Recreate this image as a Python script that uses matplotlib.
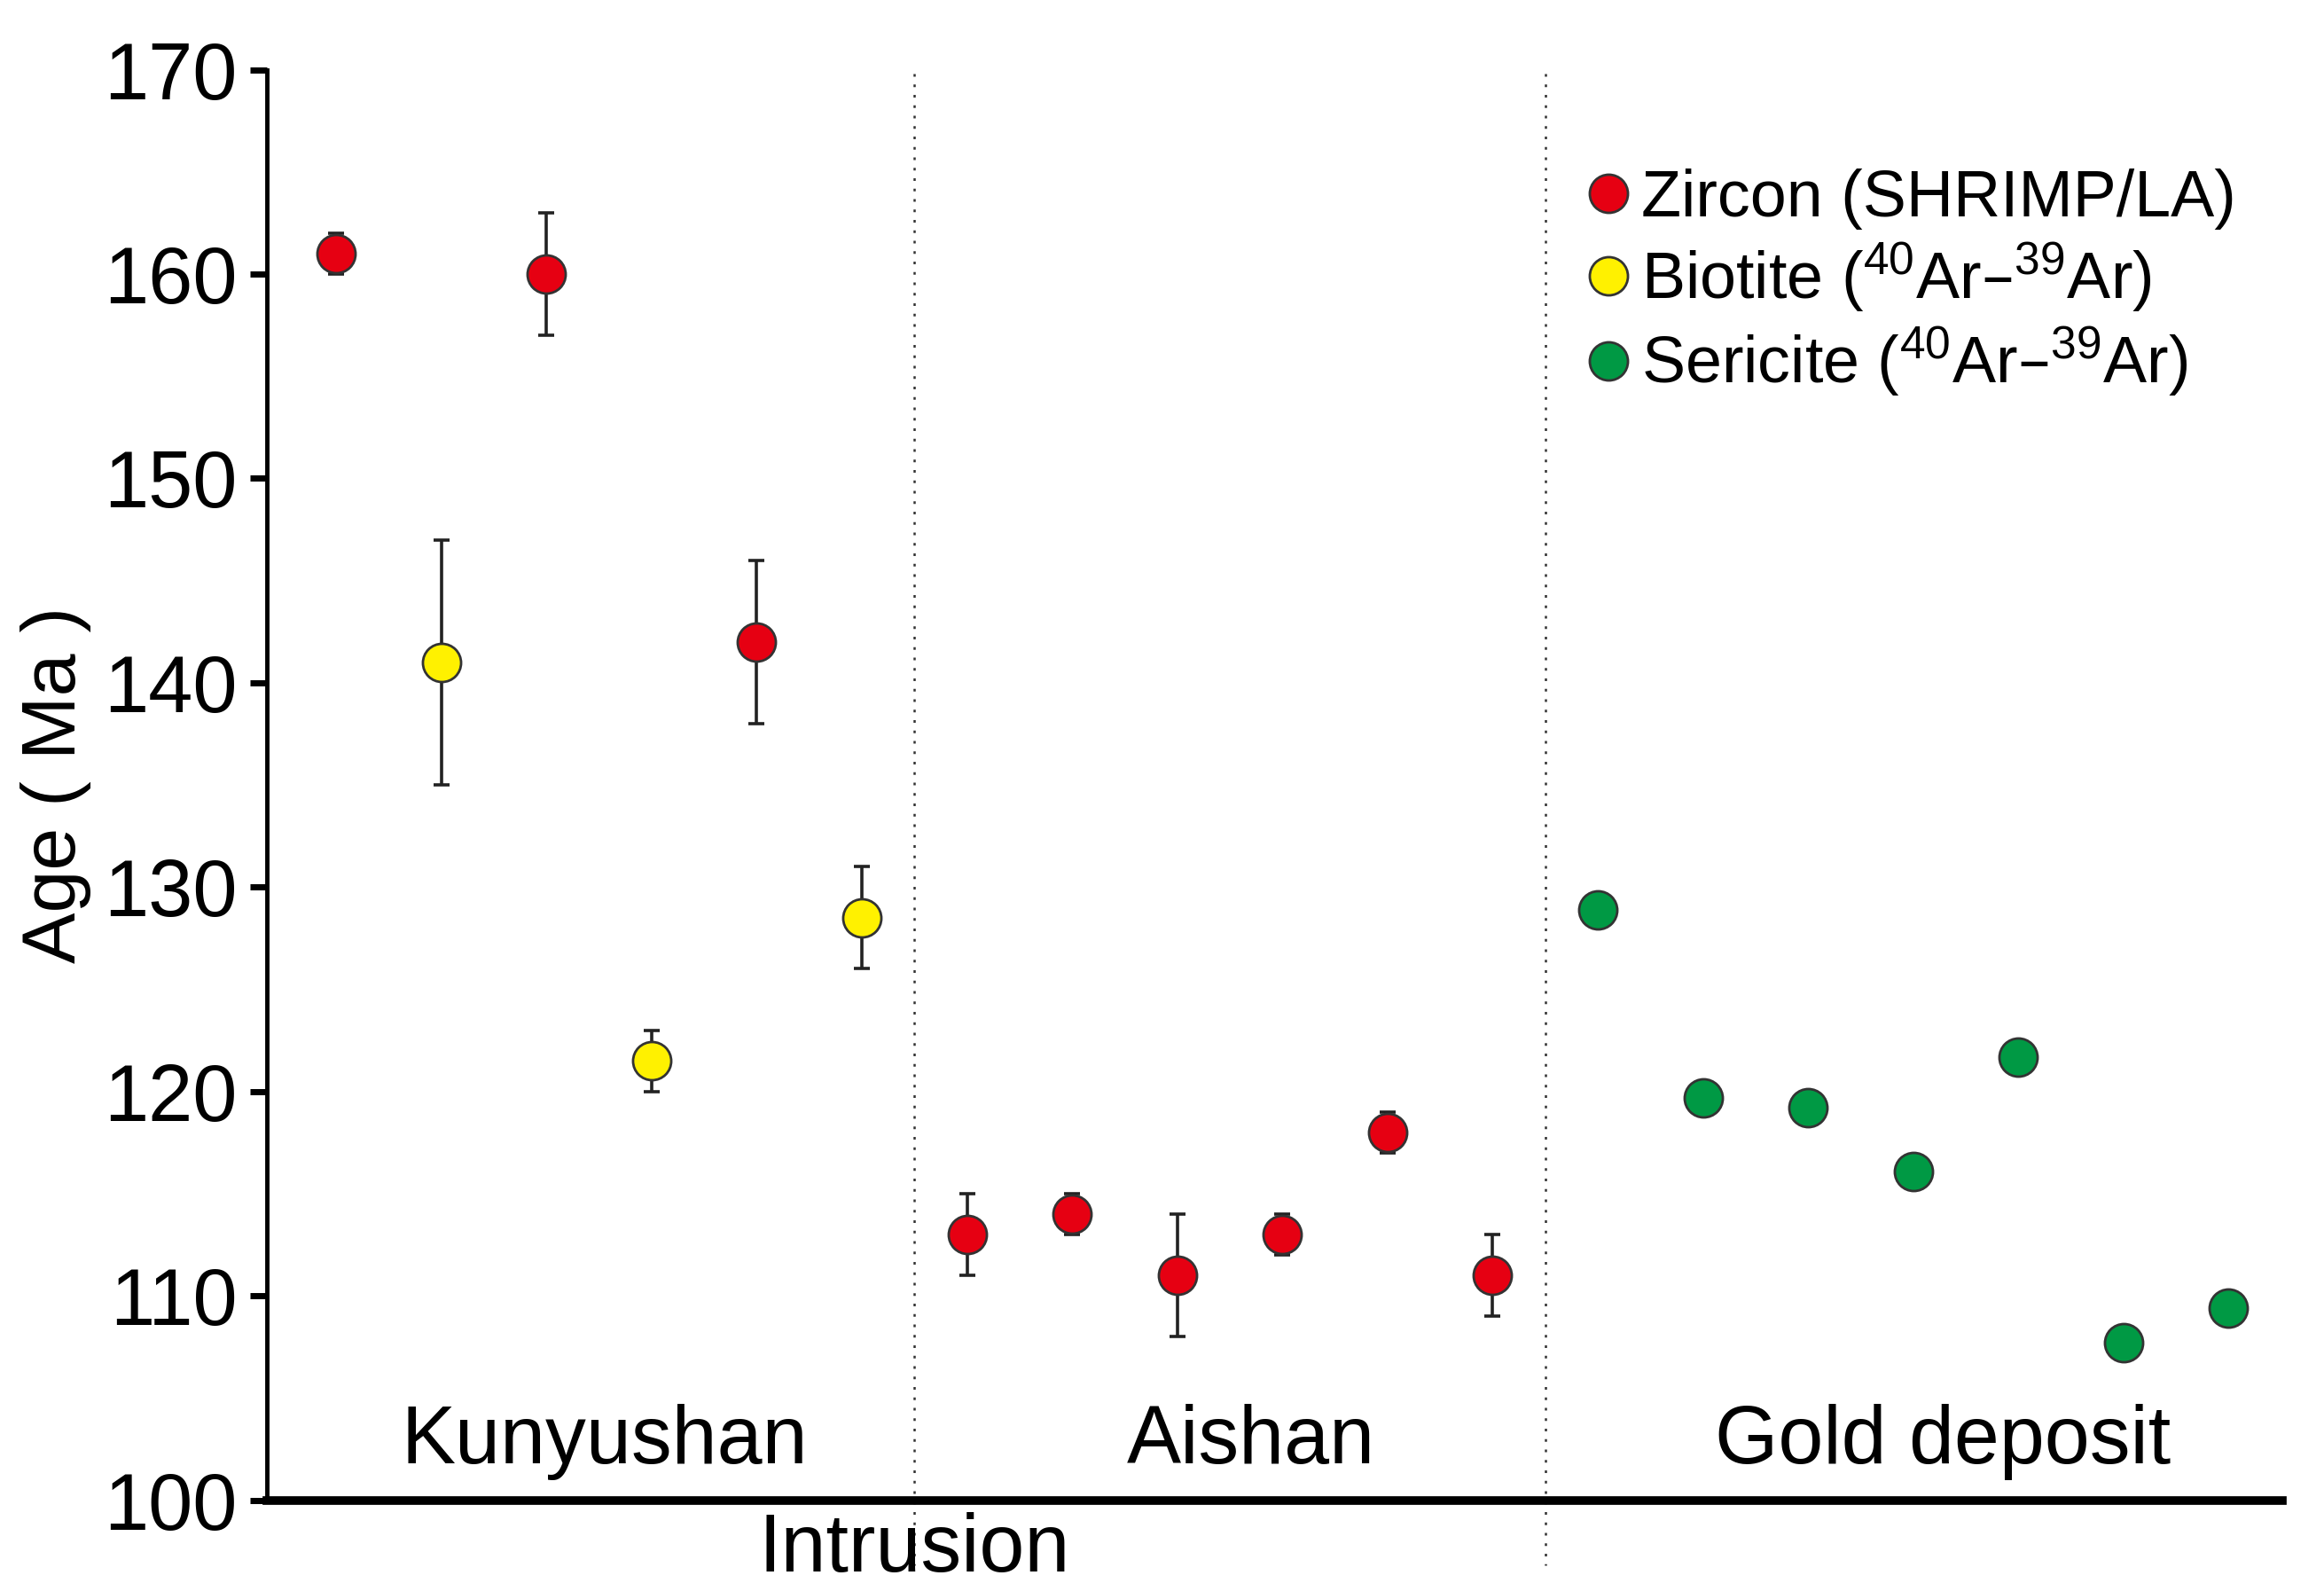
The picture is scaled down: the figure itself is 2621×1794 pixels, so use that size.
import matplotlib
matplotlib.use("Agg")
import matplotlib.pyplot as plt
from matplotlib.lines import Line2D
import numpy as np

plt.rcParams['font.family'] = ['Liberation Sans', 'DejaVu Sans']
plt.rcParams['mathtext.default'] = 'regular'

# ---- data ----
sample_index = list(range(1, 20))
mineral = ['Zircon', 'Biotite', 'Zircon', 'Biotite', 'Zircon', 'Biotite',
           'Zircon', 'Zircon', 'Zircon', 'Zircon', 'Zircon', 'Zircon',
           'Sericite', 'Sericite', 'Sericite', 'Sericite', 'Sericite', 'Sericite', 'Sericite']
age = [161.0, 141.0, 160.0, 121.5, 142.0, 128.5,
       113.0, 114.0, 111.0, 113.0, 118.0, 111.0,
       128.9, 119.7, 119.2, 116.1, 121.7, 107.7, 109.4]
err = [1.0, 6.0, 3.0, 1.5, 4.0, 2.5,
       2.0, 1.0, 3.0, 1.0, 1.0, 2.0,
       0.0, 0.0, 0.0, 0.0, 0.0, 0.0, 0.0]
group_labels = ['Kunyushan', 'Aishan', 'Gold deposit']
group_label_x = [3.55, 9.7, 16.28]
divider_x = [6.5, 12.5]
y_ticks = [100, 110, 120, 130, 140, 150, 160, 170]
legend_labels = ['Zircon (SHRIMP/LA)',
                 r'Biotite ($^{40}$Ar–$^{39}$Ar)',
                 r'Sericite ($^{40}$Ar–$^{39}$Ar)']

colors = {'Zircon': '#e60012', 'Biotite': '#fff100', 'Sericite': '#009944'}

fig = plt.figure(figsize=(26.21, 17.94), dpi=100)
ax = fig.add_axes([0.1148, 0.0571, 0.8672, 0.8991])

for xi, yi, ei, m in zip(sample_index, age, err, mineral):
    if ei > 0:
        ax.errorbar(xi, yi, yerr=ei, fmt='none', ecolor='#222222',
                    elinewidth=2.6, capsize=6.5, capthick=2.6, zorder=2)
    ax.plot(xi, yi, 'o', ms=31, mfc=colors[m], mec='#333333', mew=2.0, zorder=3)

for dx in divider_x:
    ax.plot([dx, dx], [169.8, 96.8], ls=(0, (1.2, 3.5)), color='#333333',
            lw=1.8, clip_on=False, zorder=1)

for lab, gx in zip(group_labels, group_label_x):
    ax.text(gx, 102.85, lab, ha='center', va='center', fontsize=66)
ax.text(divider_x[0], 97.55, 'Intrusion', ha='center', va='center', fontsize=66,
        clip_on=False)

ax.set_xlim(0.34, 19.51)
ax.set_ylim(100, 170)
ax.set_yticks(y_ticks)
ax.set_xticks([])
ax.spines['top'].set_visible(False)
ax.spines['right'].set_visible(False)
ax.spines['left'].set_linewidth(3.5)
ax.spines['bottom'].set_linewidth(7)
ax.tick_params(axis='y', direction='out', length=14, width=5, labelsize=65, pad=10)
ax.set_ylabel('Age ( Ma )', fontsize=62, labelpad=10)

handles = [Line2D([], [], ls='none', marker='o', ms=31, mfc=colors[k],
                  mec='#333333', mew=2.0) for k in ['Zircon', 'Biotite', 'Sericite']]
ax.legend(handles, legend_labels, loc='upper left', bbox_to_anchor=(0.640, 0.954),
          frameon=False, fontsize=53, handlelength=0.6, handletextpad=0.2,
          labelspacing=0.17, borderpad=0)

fig.savefig('out.png', dpi=100, facecolor='white')
